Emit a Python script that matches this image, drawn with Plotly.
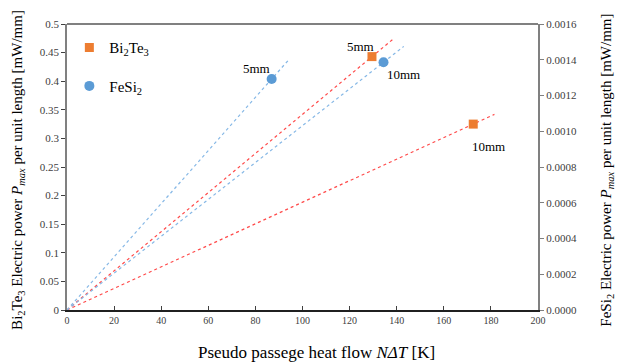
import plotly.graph_objects as go

# ---- data ----
lengths = ["5mm", "10mm"]
bi_x = [129.5, 172.5]          # Bi2Te3 pseudo heat flow N dT [K]
bi_y = [0.443, 0.325]          # Bi2Te3 Pmax per unit length [mW/mm]
fe_x = [86.9, 134.4]           # FeSi2 pseudo heat flow N dT [K]
fe_y = [0.001292, 0.001386]    # FeSi2 Pmax per unit length [mW/mm]
bi_trend_end = [139.0, 181.5]  # trendline extents (x)
fe_trend_end = [94.0, 143.0]

x_ticks = list(range(0, 201, 20))
y_ticks = [0, 0.05, 0.1, 0.15, 0.2, 0.25, 0.3, 0.35, 0.4, 0.45, 0.5]
y2_ticks = [0, 0.0002, 0.0004, 0.0006, 0.0008, 0.0010, 0.0012, 0.0014, 0.0016]

FONT = "Liberation Serif"
ORANGE = "#ED7D31"
BLUE = "#5B9BD5"
RED_TREND = "#ff4a4a"
BLUE_TREND = "#86b8e6"

fig = go.Figure()

# trendlines through origin
for xs, ys, xe in zip(bi_x, bi_y, bi_trend_end):
    k = ys / xs
    fig.add_trace(go.Scatter(x=[0, xe], y=[0, k * xe], mode="lines",
                             line=dict(color=RED_TREND, width=1.2, dash="dot"),
                             showlegend=False, hoverinfo="skip", yaxis="y"))
for xs, ys, xe in zip(fe_x, fe_y, fe_trend_end):
    k = ys / xs
    fig.add_trace(go.Scatter(x=[0, xe], y=[0, k * xe], mode="lines",
                             line=dict(color=BLUE_TREND, width=1.2, dash="dot"),
                             showlegend=False, hoverinfo="skip", yaxis="y2"))

fig.add_trace(go.Scatter(x=bi_x, y=bi_y, mode="markers", name="Bi<sub>2</sub>Te<sub>3</sub>",
                         marker=dict(symbol="square", size=9, color=ORANGE),
                         legendgroup="a", yaxis="y"))
fig.add_trace(go.Scatter(x=fe_x, y=fe_y, mode="markers", name="FeSi<sub>2</sub>",
                         marker=dict(symbol="circle", size=10, color=BLUE),
                         legendgroup="b", yaxis="y2"))

# point labels
bi_shifts = [(-11, 10), (15, -22)]
fe_shifts = [(-15, 11), (20, -12)]
ann = []
for lab, xv, yv, (dx, dy) in zip(lengths, bi_x, bi_y, bi_shifts):
    ann.append(dict(x=xv, y=yv, xref="x", yref="y", text=lab, showarrow=False,
                    xshift=dx, yshift=dy, font=dict(family=FONT, size=13, color="#000")))
for lab, xv, yv, (dx, dy) in zip(lengths, fe_x, fe_y, fe_shifts):
    ann.append(dict(x=xv, y=yv, xref="x", yref="y2", text=lab, showarrow=False,
                    xshift=dx, yshift=dy, font=dict(family=FONT, size=13, color="#000")))

# axis titles
ann.append(dict(xref="paper", yref="paper", x=-0.104, y=0.49, textangle=-90,
                text="Bi<sub>2</sub>Te<sub>3</sub> Electric power <i>P</i><sub><i>max</i></sub> per unit length [mW/mm]",
                showarrow=False, xanchor="center", yanchor="middle",
                font=dict(family=FONT, size=15, color="#000")))
ann.append(dict(xref="paper", yref="paper", x=1.146, y=0.49, textangle=-90,
                text="FeSi<sub>2</sub> Electric power <i>P</i><sub><i>max</i></sub> per unit length [mW/mm]",
                showarrow=False, xanchor="center", yanchor="middle",
                font=dict(family=FONT, size=15, color="#000")))
ann.append(dict(xref="paper", yref="paper", x=0.53, y=-0.147,
                text="Pseudo passege heat flow <i>NΔT</i> [K]",
                showarrow=False, xanchor="center", yanchor="middle",
                font=dict(family=FONT, size=17, color="#000")))

fig.update_layout(
    width=624, height=363,
    margin=dict(l=67, r=86, t=24, b=53),
    paper_bgcolor="white", plot_bgcolor="white",
    font=dict(family=FONT, size=10, color="#404040"),
    annotations=ann,
    showlegend=True,
    legend=dict(x=0.005, y=0.975, xanchor="left", yanchor="top",
                bgcolor="rgba(0,0,0,0)", tracegroupgap=16,
                font=dict(family=FONT, size=15, color="#000")),
    xaxis=dict(range=[0, 200], tickvals=x_ticks, ticks="inside", ticklen=4,
               tickcolor="#404040", showgrid=False, zeroline=False,
               showline=True, linecolor="#202020", linewidth=1.5, mirror=False,
               tickfont=dict(family=FONT, size=10, color="#404040")),
    yaxis=dict(range=[0, 0.5], tickvals=y_ticks, ticks="outside", ticklen=4,
               tickcolor="#404040", showgrid=False, zeroline=False,
               showline=True, linecolor="#808080", linewidth=1.5,
               tickfont=dict(family=FONT, size=11, color="#404040")),
    yaxis2=dict(range=[0, 0.0016], tickvals=y2_ticks, tickformat=".4f",
                overlaying="y", side="right", ticks="outside", ticklen=4,
                tickcolor="#808080", showgrid=False, zeroline=False,
                showline=True, linecolor="#808080", linewidth=2,
                tickfont=dict(family=FONT, size=11, color="#404040")),
    shapes=[dict(type="line", xref="paper", yref="paper", x0=0, x1=1, y0=1, y1=1,
                 line=dict(color="#808080", width=2))],
)

fig.write_html("out.html")
